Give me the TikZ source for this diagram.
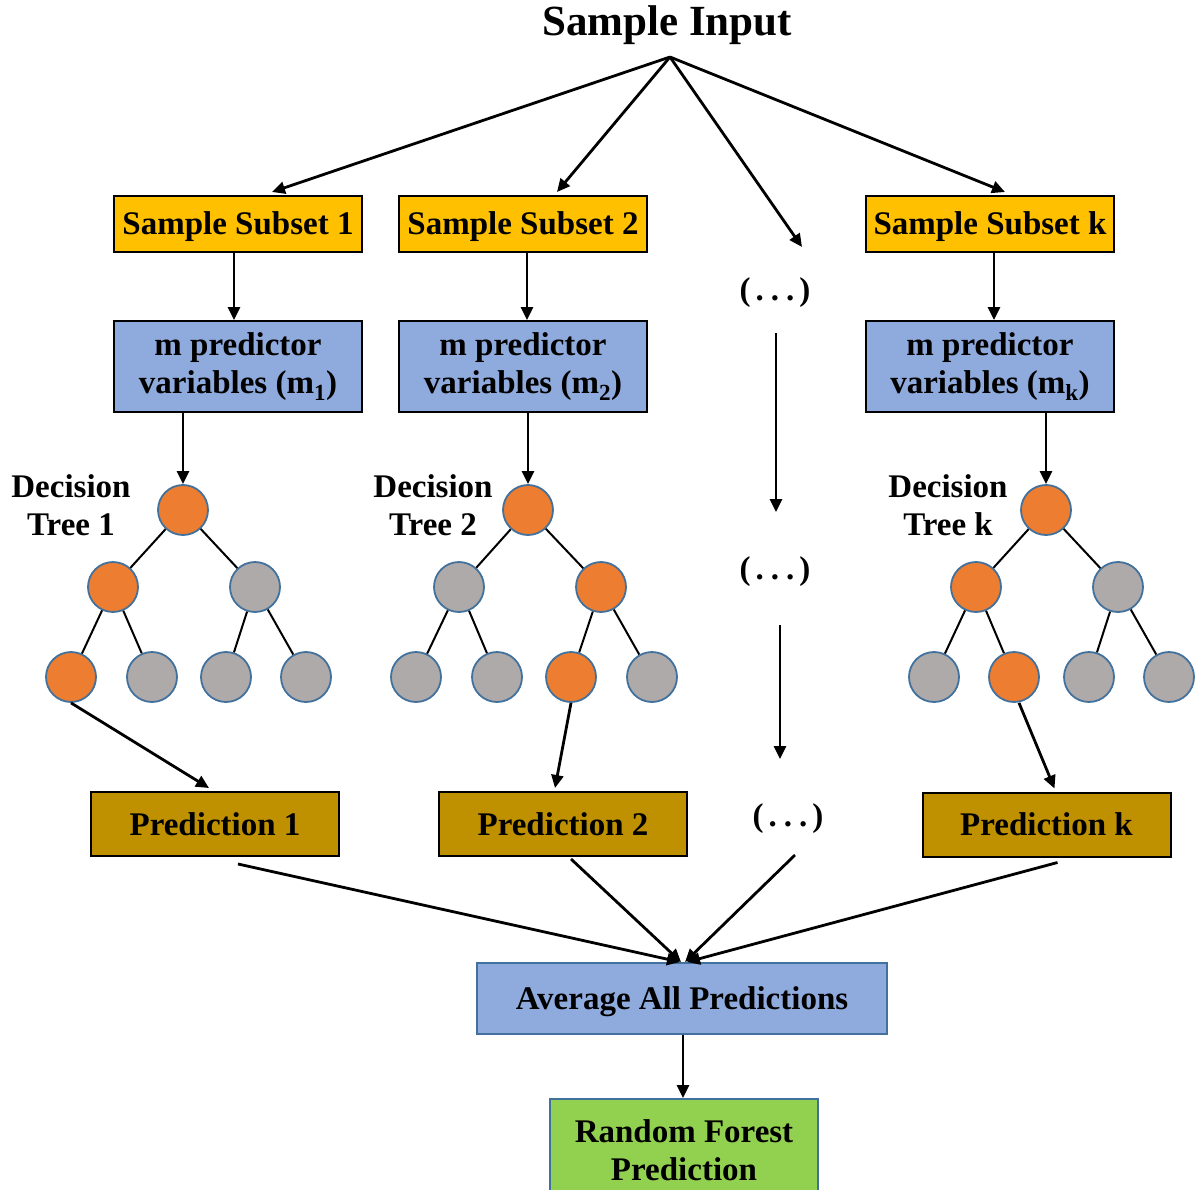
\documentclass[tikz,border=0pt]{standalone}
\usepackage{fontspec}
\setmainfont{Liberation Serif}
\usetikzlibrary{arrows.meta,calc}
\definecolor{cgold}{HTML}{FFC000}
\definecolor{cblue}{HTML}{8FAADC}
\definecolor{colive}{HTML}{BF9000}
\definecolor{cgreen}{HTML}{92D050}
\definecolor{corange}{HTML}{ED7D31}
\definecolor{cgray}{HTML}{AEAAAA}
\definecolor{cborder}{HTML}{41719C}
\newcommand\nodefont{\fontsize{33}{38}\selectfont\bfseries}
\newcommand\dotsep{(\hspace{5pt}.\hspace{7pt}.\hspace{7pt}.\hspace{5pt})}
\begin{document}
\begin{tikzpicture}[x=1pt,y=-1pt,
  box/.style={draw=black, line width=2pt, inner sep=0pt, align=center, font=\nodefont},
  oneline/.style={text height=26pt, text depth=4pt},
  subset/.style={box, oneline, fill=cgold, minimum width=248, minimum height=56},
  mvar/.style={box, fill=cblue, minimum width=248, minimum height=91},
  pred/.style={box, oneline, fill=colive, minimum width=248, minimum height=64},
  lbl/.style={align=center, font=\nodefont, inner sep=0pt},
  arr/.style={-{Triangle[length=13pt,width=12pt]}, line width=2.8pt},
  edge/.style={line width=2pt},
  circ/.style={circle, draw=cborder, line width=1.8pt, minimum size=50, inner sep=0pt},
  orn/.style={circ, fill=corange},
  gry/.style={circ, fill=cgray}]
\clip (0,0) rectangle (1196,1190);
\useasboundingbox (0,0) rectangle (1196,1190);

% title
\node[font=\fontsize{43}{48}\selectfont\bfseries, inner sep=0pt] (title) at (667,25) {Sample Input};
\coordinate (apex) at (670,57);

% subsets
\node[subset] (s1) at (238,224) {Sample Subset 1};
\node[subset] (s2) at (523,224) {Sample Subset 2};
\node[subset] (sk) at (990,224) {Sample Subset k};
\node[lbl] (d1) at (775,293) {\dotsep};
\coordinate (dtop) at (802,247);

\draw[arr] (apex) -- ($(s1.north)+(34,-3)$);
\draw[arr] (apex) -- ($(s2.north)+(34,-3)$);
\draw[arr] (apex) -- (dtop);
\draw[arr] (apex) -- ($(sk.north)+(15,-3)$);

% m predictor boxes
\node[mvar] (m1) at (238,366.5) {m predictor\\variables (m\textsubscript{1})};
\node[mvar] (m2) at (523,366.5) {m predictor\\variables (m\textsubscript{2})};
\node[mvar] (mk) at (990,366.5) {m predictor\\variables (m\textsubscript{k})};

\draw[arr] ($(s1.south)+(-4,0)$) -- ($(m1.north)+(-4,0)$);
\draw[arr] ($(s2.south)+(4,0)$) -- ($(m2.north)+(4,0)$);
\draw[arr] ($(sk.south)+(4,0)$) -- ($(mk.north)+(4,0)$);

% tree 1
\node[orn] (a0) at (183,510) {};
\node[orn] (a1) at (113,587) {};
\node[gry] (a2) at (255,587) {};
\node[orn] (a3) at (71,677) {};
\node[gry] (a4) at (152,677) {};
\node[gry] (a5) at (226,677) {};
\node[gry] (a6) at (306,677) {};
\draw[edge] (a0) -- (a1); \draw[edge] (a0) -- (a2);
\draw[edge] (a1) -- (a3); \draw[edge] (a1) -- (a4);
\draw[edge] (a2) -- (a5); \draw[edge] (a2) -- (a6);
\node[lbl] (l1) at (71,505) {Decision\\Tree 1};

% tree 2
\node[orn] (b0) at (528,510) {};
\node[gry] (b1) at (459,587) {};
\node[orn] (b2) at (601,587) {};
\node[gry] (b3) at (416,677) {};
\node[gry] (b4) at (497,677) {};
\node[orn] (b5) at (571,677) {};
\node[gry] (b6) at (652,677) {};
\draw[edge] (b0) -- (b1); \draw[edge] (b0) -- (b2);
\draw[edge] (b1) -- (b3); \draw[edge] (b1) -- (b4);
\draw[edge] (b2) -- (b5); \draw[edge] (b2) -- (b6);
\node[lbl] (l2) at (433,505) {Decision\\Tree 2};

% tree k
\node[orn] (c0) at (1046,510) {};
\node[orn] (c1) at (976,587) {};
\node[gry] (c2) at (1118,587) {};
\node[gry] (c3) at (934,677) {};
\node[orn] (c4) at (1014,677) {};
\node[gry] (c5) at (1089,677) {};
\node[gry] (c6) at (1169,677) {};
\draw[edge] (c0) -- (c1); \draw[edge] (c0) -- (c2);
\draw[edge] (c1) -- (c3); \draw[edge] (c1) -- (c4);
\draw[edge] (c2) -- (c5); \draw[edge] (c2) -- (c6);
\node[lbl] (lk) at (948,505) {Decision\\Tree k};

\draw[arr] (m1.south -| a0) -- (a0.north);
\draw[arr] (m2.south -| b0) -- (b0.north);
\draw[arr] (mk.south -| c0) -- (c0.north);

% dots column
\node[lbl] (d2) at (775,572) {\dotsep};
\node[lbl] (d3) at (788,819) {\dotsep};
\coordinate (d1b) at (776,333);
\coordinate (d2t) at (776,512);
\coordinate (d2b) at (780,625);
\coordinate (d3t) at (780,759);
\draw[arr] (d1b) -- (d2t);
\draw[arr] (d2b) -- (d3t);

% predictions
\node[pred] (p1) at (215,824) {Prediction 1};
\node[pred] (p2) at (563,824) {Prediction 2};
\node[pred] (pk) at (1046.5,824.5) {Prediction k};

\draw[arr] (a3.south) -- ($(p1.north)+(-6,-3)$);
\draw[arr] (b5.south) -- ($(p2.north)+(-8,-3)$);
\draw[arr] ($(c4.south)+(5,0)$) -- ($(pk.north)+(8,-3)$);

% average
\node[box, oneline, draw=cborder, fill=cblue, minimum width=410, minimum height=71] (avg) at (682,998.5) {Average All Predictions};
\coordinate (d3b) at (795,855);

\draw[arr] ($(p1.south)+(23,7)$) -- ($(avg.north)+(-2,0)$);
\draw[arr] ($(p2.south)+(8,2)$) -- ($(avg.north)+(-1,0)$);
\draw[arr] (d3b) -- ($(avg.north)+(3,0)$);
\draw[arr] ($(pk.south)+(11,5)$) -- ($(avg.north)+(5,0)$);

% final
\node[box, draw=cborder, fill=cgreen, minimum width=268, minimum height=102] (rf) at (684,1150) {Random Forest\\Prediction};
\draw[arr] ($(avg.south)+(1,0)$) -- ($(rf.north)+(-1,0)$);
\end{tikzpicture}
\end{document}
